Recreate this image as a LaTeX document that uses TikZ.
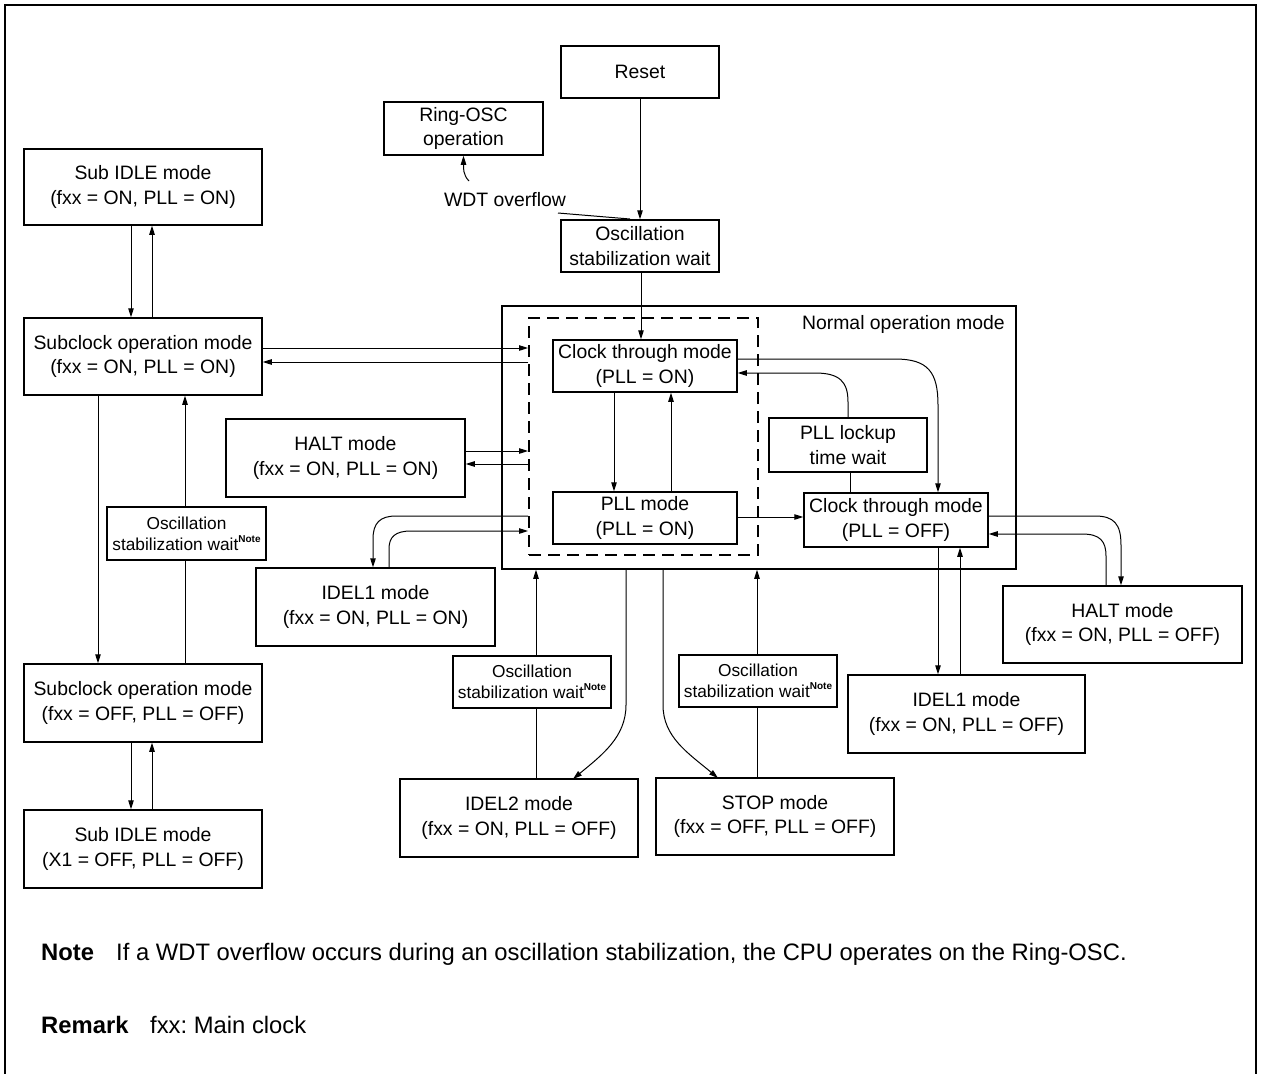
\documentclass[tikz,border=0pt]{standalone}
\usepackage{fontspec}
\setmainfont{Liberation Sans}
\usetikzlibrary{arrows.meta,calc}
\frenchspacing
\newcommand{\fsA}{\fontsize{19.4}{24.8}\selectfont}
\newcommand{\fsB}{\fontsize{17.3}{21}\selectfont}
\newcommand{\fsN}{\fontsize{23.8}{28}\selectfont}
\newcommand{\notesup}{\raisebox{0.45em}{\fontsize{10}{10}\selectfont\bfseries Note}}
\begin{document}
\begin{tikzpicture}[x=1pt,y=-1pt,
  box/.style={draw, line width=1.5pt, align=center, inner sep=0pt, font=\fsA},
  sbox/.style={box, font=\fsB},
  con/.style={line width=1pt},
  arr/.style={con, -{Triangle[length=9pt,width=5.5pt]}},
]
\useasboundingbox (0,0) rectangle (1262,1074);
\draw[line width=2.8pt] (5,1090) -- (5,5) -- (1256,5) -- (1256,1090);

% top
\node[box, minimum width=158pt, minimum height=52pt] (reset) at (640,72) {Reset};
\node[box, minimum width=159pt, minimum height=53pt] (ring) at (463.5,128.5) {Ring-OSC\\operation};
\node[box, minimum width=158pt, minimum height=52pt] (osc0) at (640,246) {Oscillation\\stabilization wait};
\node[font=\fsA, inner sep=0pt] (wdt) at (505,200) {WDT overflow};

% left column
\node[box, minimum width=238pt, minimum height=76pt] (subidleA) at (143,187) {Sub IDLE mode\\(fxx = ON, PLL = ON)};
\node[box, minimum width=238pt, minimum height=77pt] (subon) at (143,356.5) {Subclock operation mode\\(fxx = ON, PLL = ON)};
\node[box, minimum width=239pt, minimum height=78pt] (halton) at (345.5,458) {HALT mode\\(fxx = ON, PLL = ON)};
\node[sbox, minimum width=159pt, minimum height=53pt] (oscL) at (186.5,533.5) {Oscillation\\stabilization wait\notesup};
\node[box, minimum width=239pt, minimum height=78pt] (idelon) at (375.5,607) {IDEL1 mode\\(fxx = ON, PLL = ON)};
\node[box, minimum width=238pt, minimum height=78pt] (suboff) at (143,703) {Subclock operation mode\\(fxx = OFF, PLL = OFF)};
\node[box, minimum width=238pt, minimum height=78pt] (subidleB) at (143,849) {Sub IDLE mode\\(X1 = OFF, PLL = OFF)};

% normal operation mode
\node[draw, line width=1.5pt, minimum width=514pt, minimum height=263pt, inner sep=0pt] (normal) at (759,437.5) {};
\node[font=\fsA, anchor=east, inner sep=0pt] (normlabel) at (1005,324) {Normal operation mode};
\node[draw, dash pattern=on 12pt off 7pt, line width=2pt, minimum width=229pt, minimum height=237pt, inner sep=0pt] (dbox) at (643.5,436.5) {};
\node[box, minimum width=184pt, minimum height=52pt] (clkon) at (645,366) {Clock through mode\\(PLL = ON)};
\node[box, minimum width=184pt, minimum height=52pt] (pll) at (645,518) {PLL mode\\(PLL = ON)};
\node[box, minimum width=158pt, minimum height=54pt] (lock) at (848,445) {PLL lockup\\time wait};
\node[box, minimum width=184pt, minimum height=54pt] (clkoff) at (896,520) {Clock through mode\\(PLL = OFF)};

% right / bottom
\node[box, minimum width=239pt, minimum height=77pt] (haltoff) at (1122.5,624.5) {HALT mode\\(fxx = ON, PLL = OFF)};
\node[box, minimum width=237pt, minimum height=78pt] (ideloff) at (966.5,714) {IDEL1 mode\\(fxx = ON, PLL = OFF)};
\node[sbox, minimum width=158pt, minimum height=52pt] (oscB) at (532,682) {Oscillation\\stabilization wait\notesup};
\node[sbox, minimum width=158pt, minimum height=52pt] (oscC) at (758,681) {Oscillation\\stabilization wait\notesup};
\node[box, minimum width=238pt, minimum height=78pt] (idel2) at (519,818) {IDEL2 mode\\(fxx = ON, PLL = OFF)};
\node[box, minimum width=238pt, minimum height=77pt] (stop) at (775,816.5) {STOP mode\\(fxx = OFF, PLL = OFF)};

% notes
\node[font=\fsN\bfseries, anchor=base west, inner sep=0pt] (notehd) at (41,960) {Note};
\node[font=\fsN, anchor=base west, inner sep=0pt] (notetx) at (116,960) {If a WDT overflow occurs during an oscillation stabilization, the CPU operates on the Ring-OSC.};
\node[font=\fsN\bfseries, anchor=base west, inner sep=0pt] (remhd) at (41,1033) {Remark};
\node[font=\fsN, anchor=base west, inner sep=0pt] (remtx) at (150,1033) {fxx: Main clock};

% ---- connectors ----
\draw[arr] (reset) -- (osc0);
\coordinate (wdtA) at (558,213);
\coordinate (wdtB) at (630,219);
\draw[con] (wdtA) -- (wdtB);
\coordinate (wdtC) at (469,181);
\draw[arr] (wdtC) .. controls (463,175) and (463.5,168) .. (ring.south);
\draw[arr] (osc0.south -| 641,0) -- (clkon.north -| 641,0);

% left column
\draw[arr] (subidleA.south -| 131,0) -- (subon.north -| 131,0);
\draw[arr] (subon.north -| 152,0) -- (subidleA.south -| 152,0);
\draw[arr] (subon.south -| 98,0) -- (suboff.north -| 98,0);
\draw[con] (suboff.north -| 185,0) -- (oscL.south -| 185,0);
\draw[arr] (oscL.north -| 185,0) -- (subon.south -| 185,0);
\draw[arr] (suboff.south -| 131,0) -- (subidleB.north -| 131,0);
\draw[arr] (subidleB.north -| 152,0) -- (suboff.south -| 152,0);

% into dashed box
\draw[arr] (subon.east |- 0,348) -- (dbox.west |- 0,348);
\draw[arr] (dbox.west |- 0,362) -- (subon.east |- 0,362);
\draw[arr] (halton.east |- 0,451) -- (dbox.west |- 0,451);
\draw[arr] (dbox.west |- 0,464) -- (halton.east |- 0,464);
\draw[arr] (dbox.west |- 0,516) -- (396,516) .. controls (380,516) and (373,523) .. (373,539) -- (idelon.north -| 373,0);
\draw[arr] (idelon.north -| 389,0) -- (389,549) .. controls (389,537) and (395,531) .. (411,531) -- (dbox.west |- 0,531);

% inside normal mode
\draw[arr] (clkon.south -| 614,0) -- (pll.north -| 614,0);
\draw[arr] (pll.north -| 671,0) -- (clkon.south -| 671,0);
\draw[arr] (pll.east |- 0,517) -- (clkoff.west |- 0,517);
\draw[arr] (clkon.east |- 0,359) -- (895,359) .. controls (928,359) and (938,372) .. (938,405) -- (clkoff.north -| 938,0);
\draw[arr] (lock.north) -- (848,402) .. controls (848,382) and (840,373) .. (815,373) -- (clkon.east |- 0,373);
\draw[con] (lock.south -| 850,0) -- (clkoff.north -| 850,0);

% right
\draw[arr] (clkoff.east |- 0,516) -- (1095,516) .. controls (1114,516) and (1121,524) .. (1121,545) -- (haltoff.north -| 1121,0);
\draw[arr] (haltoff.north -| 1106,0) -- (1106,556) .. controls (1106,541) and (1100,534) .. (1082,534) -- (clkoff.east |- 0,534);
\draw[arr] (clkoff.south -| 938,0) -- (ideloff.north -| 938,0);
\draw[arr] (ideloff.north -| 960,0) -- (clkoff.south -| 960,0);

% bottom
\draw[arr] (normal.south -| 626,0) -- (626,705) .. controls (626,737) and (602,755) .. (573,779);
\draw[arr] (normal.south -| 663,0) -- (663,705) .. controls (663,737) and (688,753) .. (718,778);
\draw[con] (idel2.north -| 536,0) -- (oscB.south -| 536,0);
\draw[arr] (oscB.north -| 536,0) -- (normal.south -| 536,0);
\draw[con] (stop.north -| 757,0) -- (oscC.south -| 757,0);
\draw[arr] (oscC.north -| 757,0) -- (normal.south -| 757,0);
\end{tikzpicture}
\end{document}
